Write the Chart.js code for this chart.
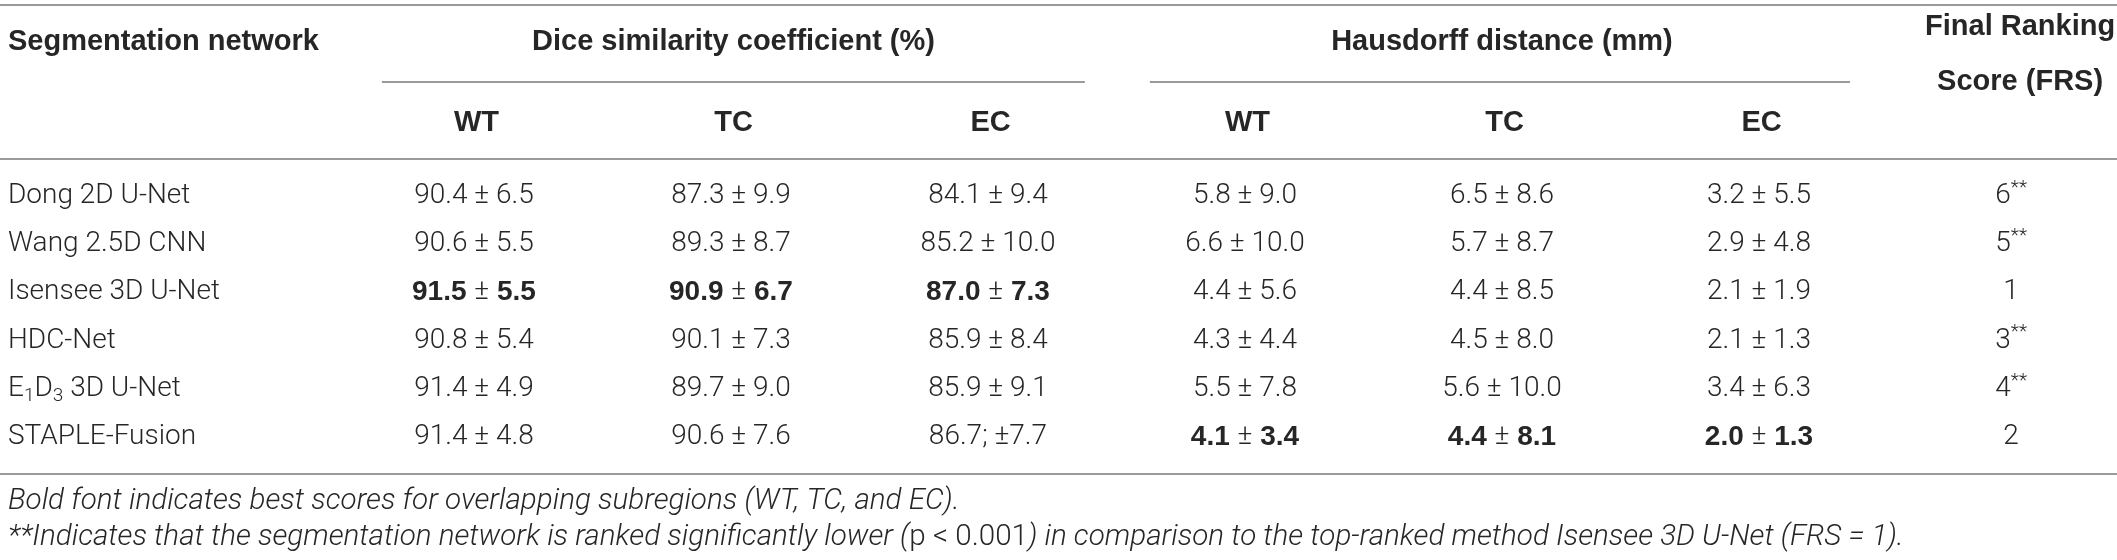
<!DOCTYPE html>
<html>
<head>
<meta charset="utf-8">
<script src="https://cdn.jsdelivr.net/npm/chart.js@4.4.1/dist/chart.umd.min.js"></script>
<style>
  html, body { margin: 0; padding: 0; background: #fff; }
  #wrap { width: 2117px; height: 560px; position: relative; }
</style>
</head>
<body>
<div id="wrap"><canvas id="tabela"></canvas></div>
<script>
// dados da tabela
const networks = ['Dong 2D U-Net', 'Wang 2.5D CNN', 'Isensee 3D U-Net', 'HDC-Net', 'E_1D_3 3D U-Net', 'STAPLE-Fusion']
const groupHeaders = ['Dice similarity coefficient (%)', 'Hausdorff distance (mm)']
const subHeaders = ['WT', 'TC', 'EC', 'WT', 'TC', 'EC']

const diceWT = [90.4, 90.6, 91.5, 90.8, 91.4, 91.4]
const diceWTsd = [6.5, 5.5, 5.5, 5.4, 4.9, 4.8]
const diceTC = [87.3, 89.3, 90.9, 90.1, 89.7, 90.6]
const diceTCsd = [9.9, 8.7, 6.7, 7.3, 9.0, 7.6]
const diceEC = [84.1, 85.2, 87.0, 85.9, 85.9, 86.7]
const diceECsd = [9.4, 10.0, 7.3, 8.4, 9.1, 7.7]
const hdWT = [5.8, 6.6, 4.4, 4.3, 5.5, 4.1]
const hdWTsd = [9.0, 10.0, 5.6, 4.4, 7.8, 3.4]
const hdTC = [6.5, 5.7, 4.4, 4.5, 5.6, 4.4]
const hdTCsd = [8.6, 8.7, 8.5, 8.0, 10.0, 8.1]
const hdEC = [3.2, 2.9, 2.1, 2.1, 3.4, 2.0]
const hdECsd = [5.5, 4.8, 1.9, 1.3, 6.3, 1.3]
const frs = [6, 5, 1, 3, 4, 2]
const frsSignificant = [true, true, false, true, true, false]
const bestRow = [2, 2, 2, 5, 5, 5]   // linha em negrito por coluna

const footnote1 = 'Bold font indicates best scores for overlapping subregions (WT, TC, and EC).'
const footnote2a = '**Indicates that the segmentation network is ranked significantly lower ('
const footnote2b = 'p < 0.001'
const footnote2c = ') in comparison to the top-ranked method Isensee 3D U-Net (FRS = 1).'

const means = [diceWT, diceTC, diceEC, hdWT, hdTC, hdEC]
const sds = [diceWTsd, diceTCsd, diceECsd, hdWTsd, hdTCsd, hdECsd]

// posicoes verticais (unidades da escala y, linha de dados = 1 unidade)
const Y_TOP = -3.96, Y_GROUP = -3.19, Y_FRS1 = -3.5, Y_FRS2 = -2.36, Y_GROUP_RULE = -2.37
const Y_SUB = -1.51, Y_HEAD_RULE = -0.77, Y_BOTTOM = 5.77, Y_NOTE1 = 6.35, Y_NOTE2 = 7.09
const X_LEFT = -0.813

const FONT_BODY = '300 28px Roboto, "Liberation Sans", Arial, sans-serif'
const FONT_BODY_BOLD = 'bold 28px "Liberation Sans", Arial, sans-serif'
const FONT_HEAD = 'bold 29px "Liberation Sans", Arial, sans-serif'
const FONT_SMALL = '300 19px Roboto, "Liberation Sans", Arial, sans-serif'
const FONT_NOTE = 'italic 300 29.6px Roboto, "Liberation Sans", Arial, sans-serif'
const FONT_NOTE_UP = '300 29.6px Roboto, "Liberation Sans", Arial, sans-serif'
const TEXT = '#262626'
const RULE = '#9a9a9a'

const cellRuns = (c, r) => {
  const bold = bestRow[c] === r
  const f = bold ? FONT_BODY_BOLD : FONT_BODY
  const m = means[c][r].toFixed(1)
  const s = sds[c][r].toFixed(1)
  if (c === 2 && r === 5) return [{ t: m + '; \u00b1' + s, font: f }]   // como no original
  return [{ t: m + ' ', font: f }, { t: '\u00b1', font: FONT_BODY }, { t: ' ' + s, font: f }]
}

// desenha pedacos de texto com fontes e deslocamentos diferentes
const drawRuns = (ctx, runs, x, y, align) => {
  let total = 0
  runs.forEach(run => { ctx.font = run.font; run.w = ctx.measureText(run.t).width; total += run.w })
  let cx = align === 'center' ? x - total / 2 : x
  ctx.textAlign = 'left'
  runs.forEach(run => {
    ctx.font = run.font
    ctx.fillText(run.t, cx, y + (run.dy || 0))
    cx += run.w
  })
}

const nameRuns = (name) => {
  const runs = []
  name.split(/(_\d)/).forEach(p => {
    if (!p) return
    if (p[0] === '_') runs.push({ t: p.slice(1), font: FONT_SMALL, dy: 7 })
    else runs.push({ t: p, font: FONT_BODY })
  })
  return runs
}

const tablePlugin = {
  id: 'tablePlugin',
  afterDraw(chart) {
    const ctx = chart.ctx
    const xs = chart.scales.x
    const ys = chart.scales.y
    const px = v => xs.getPixelForValue(v)
    const py = v => ys.getPixelForValue(v)
    ctx.save()
    ctx.textBaseline = 'middle'
    ctx.fillStyle = TEXT

    // linhas horizontais
    ctx.strokeStyle = RULE
    ctx.lineWidth = 2
    const rule = (x0, x1, y) => {
      const yy = Math.round(py(y))
      ctx.beginPath(); ctx.moveTo(px(x0), yy); ctx.lineTo(px(x1), yy); ctx.stroke()
    }
    rule(xs.min, xs.max, Y_TOP)
    rule(0.642, 3.377, Y_GROUP_RULE)
    rule(3.63, 6.354, Y_GROUP_RULE)
    rule(xs.min, xs.max, Y_HEAD_RULE)
    rule(xs.min, xs.max, Y_BOTTOM)

    // cabecalhos
    ctx.font = FONT_HEAD
    ctx.textAlign = 'left'
    ctx.fillText('Segmentation network', px(X_LEFT), py(Y_GROUP))
    ctx.textAlign = 'center'
    ctx.fillText(groupHeaders[0], px(2.01), py(Y_GROUP))
    ctx.fillText(groupHeaders[1], px(5.0), py(Y_GROUP))
    ctx.fillText('Final Ranking', px(7.016), py(Y_FRS1))
    ctx.fillText('Score (FRS)', px(7.016), py(Y_FRS2))
    subHeaders.forEach((h, i) => ctx.fillText(h, px(i + 1.01), py(Y_SUB)))

    // linhas de dados
    networks.forEach((name, r) => {
      drawRuns(ctx, nameRuns(name), px(X_LEFT), py(r), 'left')
      for (let c = 0; c < 6; c++) {
        drawRuns(ctx, cellRuns(c, r), px(c + 1), py(r), 'center')
      }
      const runs = [{ t: String(frs[r]), font: FONT_BODY }]
      if (frsSignificant[r]) runs.push({ t: '**', font: FONT_SMALL, dy: -8 })
      drawRuns(ctx, runs, px(6.981), py(r), 'center')
    })

    // notas de rodape
    ctx.font = FONT_NOTE
    ctx.textAlign = 'left'
    ctx.fillText(footnote1, px(X_LEFT), py(Y_NOTE1))
    drawRuns(ctx, [
      { t: footnote2a, font: FONT_NOTE },
      { t: footnote2b, font: FONT_NOTE_UP },
      { t: footnote2c, font: FONT_NOTE }
    ], px(X_LEFT), py(Y_NOTE2), 'left')
    ctx.restore()
  }
}

const tabela = new Chart(document.getElementById('tabela'), {
  type: 'scatter',
  data: { datasets: [{ data: [], pointRadius: 0 }] },
  options: {
    responsive: true,
    maintainAspectRatio: false,
    animation: false,
    layout: { padding: 0 },
    plugins: { legend: { display: false }, tooltip: { enabled: false } },
    scales: {
      x: { type: 'linear', min: -0.844, max: 7.393, display: false },
      y: { type: 'linear', min: -4.066, max: 7.552, reverse: true, display: false }
    }
  },
  plugins: [tablePlugin]
})
</script>
</body>
</html>
